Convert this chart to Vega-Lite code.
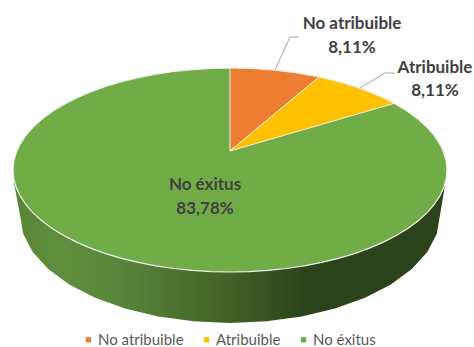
{
  "$schema": "https://vega.github.io/schema/vega-lite/v6.json",
  "width": 474,
  "height": 347,
  "padding": 0,
  "autosize": "none",
  "background": "white",
  "view": {"stroke": null},
  "datasets": {
    "rim": [
      {"x": -0.9954, "low": -0.1275, "high": 0},
      {"x": -0.9677, "low": -0.4412, "high": 0},
      {"x": -0.953, "low": -0.625, "high": 0},
      {"x": -0.9093, "low": -0.8033, "high": 0},
      {"x": -0.838, "low": -0.9706, "high": 0},
      {"x": -0.7413, "low": -1.1218, "high": 0},
      {"x": -0.622, "low": -1.2523, "high": 0},
      {"x": -0.4839, "low": -1.3581, "high": 0},
      {"x": -0.331, "low": -1.4362, "high": 0},
      {"x": -0.168, "low": -1.4839, "high": 0},
      {"x": 0, "low": -1.5, "high": 0},
      {"x": 0.168, "low": -1.4839, "high": 0},
      {"x": 0.331, "low": -1.4362, "high": 0},
      {"x": 0.4839, "low": -1.3581, "high": 0},
      {"x": 0.622, "low": -1.2523, "high": 0},
      {"x": 0.7413, "low": -1.1218, "high": 0},
      {"x": 0.838, "low": -0.9706, "high": 0},
      {"x": 0.9093, "low": -0.8033, "high": 0},
      {"x": 0.953, "low": -0.625, "high": 0},
      {"x": 0.9677, "low": -0.4412, "high": 0},
      {"x": 0.9908, "low": -0.147, "high": 0}
    ],
    "disc": [
      {"slice": "No éxitus", "x": -1, "low": 0, "high": 0},
      {"slice": "No éxitus", "x": -0.9962, "low": -0.0872, "high": 0.0872},
      {"slice": "No éxitus", "x": -0.9848, "low": -0.1736, "high": 0.1736},
      {"slice": "No éxitus", "x": -0.9659, "low": -0.2588, "high": 0.2588},
      {"slice": "No éxitus", "x": -0.9397, "low": -0.342, "high": 0.342},
      {"slice": "No éxitus", "x": -0.9063, "low": -0.4226, "high": 0.4226},
      {"slice": "No éxitus", "x": -0.866, "low": -0.5, "high": 0.5},
      {"slice": "No éxitus", "x": -0.8192, "low": -0.5736, "high": 0.5736},
      {"slice": "No éxitus", "x": -0.766, "low": -0.6428, "high": 0.6428},
      {"slice": "No éxitus", "x": -0.7071, "low": -0.7071, "high": 0.7071},
      {"slice": "No éxitus", "x": -0.6428, "low": -0.766, "high": 0.766},
      {"slice": "No éxitus", "x": -0.5736, "low": -0.8192, "high": 0.8192},
      {"slice": "No éxitus", "x": -0.5, "low": -0.866, "high": 0.866},
      {"slice": "No éxitus", "x": -0.4226, "low": -0.9063, "high": 0.9063},
      {"slice": "No éxitus", "x": -0.342, "low": -0.9397, "high": 0.9397},
      {"slice": "No éxitus", "x": -0.2588, "low": -0.9659, "high": 0.9659},
      {"slice": "No éxitus", "x": -0.1736, "low": -0.9848, "high": 0.9848},
      {"slice": "No éxitus", "x": -0.0872, "low": -0.9962, "high": 0.9962},
      {"slice": "No éxitus", "x": 0, "low": -1, "high": 1},
      {"slice": "No éxitus", "x": 0.0872, "low": -0.9962, "high": 0.9962},
      {"slice": "No éxitus", "x": 0.1736, "low": -0.9848, "high": 0.9848},
      {"slice": "No éxitus", "x": 0.2588, "low": -0.9659, "high": 0.9659},
      {"slice": "No éxitus", "x": 0.342, "low": -0.9397, "high": 0.9397},
      {"slice": "No éxitus", "x": 0.4226, "low": -0.9063, "high": 0.9063},
      {"slice": "No éxitus", "x": 0.5, "low": -0.866, "high": 0.866},
      {"slice": "No éxitus", "x": 0.5736, "low": -0.8192, "high": 0.8192},
      {"slice": "No éxitus", "x": 0.6428, "low": -0.766, "high": 0.766},
      {"slice": "No éxitus", "x": 0.7071, "low": -0.7071, "high": 0.7071},
      {"slice": "No éxitus", "x": 0.766, "low": -0.6428, "high": 0.6428},
      {"slice": "No éxitus", "x": 0.8192, "low": -0.5736, "high": 0.5736},
      {"slice": "No éxitus", "x": 0.866, "low": -0.5, "high": 0.5},
      {"slice": "No éxitus", "x": 0.9063, "low": -0.4226, "high": 0.4226},
      {"slice": "No éxitus", "x": 0.9397, "low": -0.342, "high": 0.342},
      {"slice": "No éxitus", "x": 0.9659, "low": -0.2588, "high": 0.2588},
      {"slice": "No éxitus", "x": 0.9848, "low": -0.1736, "high": 0.1736},
      {"slice": "No éxitus", "x": 0.9962, "low": -0.0872, "high": 0.0872},
      {"slice": "No éxitus", "x": 1, "low": 0, "high": 0}
    ],
    "wedges": [
      {"slice": "No atribuible", "x": 0, "low": 0.1863, "high": 1},
      {"slice": "No atribuible", "x": 0.1, "low": 0.3632, "high": 0.995},
      {"slice": "No atribuible", "x": 0.2, "low": 0.5401, "high": 0.9798},
      {"slice": "No atribuible", "x": 0.3, "low": 0.717, "high": 0.9539},
      {"slice": "No atribuible", "x": 0.4102, "low": 0.912, "high": 0.912},
      {"slice": "Atribuible", "x": 0, "low": 0.1863, "high": 0.1863},
      {"slice": "Atribuible", "x": 0.4102, "low": 0.4395, "high": 0.912},
      {"slice": "Atribuible", "x": 0.5, "low": 0.4949, "high": 0.866},
      {"slice": "Atribuible", "x": 0.6, "low": 0.5566, "high": 0.8},
      {"slice": "Atribuible", "x": 0.7, "low": 0.6183, "high": 0.7141},
      {"slice": "Atribuible", "x": 0.757, "low": 0.6535, "high": 0.6535}
    ],
    "leaders": [
      {"leader": "No atribuible", "step": 1, "x": 0.2074, "y": 0.9804},
      {"leader": "No atribuible", "step": 2, "x": 0.2765, "y": 1.3039},
      {"leader": "No atribuible", "step": 3, "x": 0.318, "y": 1.3039},
      {"leader": "Atribuible", "step": 1, "x": 0.5991, "y": 0.8039},
      {"leader": "Atribuible", "step": 2, "x": 0.7143, "y": 0.951},
      {"leader": "Atribuible", "step": 3, "x": 0.7604, "y": 0.951}
    ],
    "labels": [
      {"text": "No atribuible", "x": 0.5622, "y": 1.4314},
      {"text": "8,11%", "x": 0.5622, "y": 1.196},
      {"text": "Atribuible", "x": 0.9447, "y": 1},
      {"text": "8,11%", "x": 0.9447, "y": 0.7745},
      {"text": "No éxitus", "x": -0.1152, "y": -0.1471},
      {"text": "83,78%", "x": -0.1152, "y": -0.3824}
    ]
  },
  "layer": [
    {
      "data": {"name": "rim"},
      "mark": {
        "type": "area",
        "color": {
          "gradient": "linear",
          "x1": 0, "y1": 0, "x2": 1, "y2": 0,
          "stops": [
            {"offset": 0, "color": "#578436"},
            {"offset": 0.1, "color": "#5f8f3b"},
            {"offset": 0.25, "color": "#58853a"},
            {"offset": 0.5, "color": "#3f6026"},
            {"offset": 0.68, "color": "#2b421a"},
            {"offset": 1, "color": "#2c421a"}
          ]
        }
      },
      "encoding": {
        "x": {"field": "x", "type": "quantitative", "axis": null, "scale": {"domain": [-1.0599, 1.1244], "nice": false, "zero": false}},
        "y": {"field": "low", "type": "quantitative", "axis": null, "scale": {"domain": [-1.7353, 1.6667], "nice": false, "zero": false}},
        "y2": {"field": "high"}
      }
    },
    {
      "data": {"name": "disc"},
      "mark": {"type": "area", "stroke": "#f2f2ee", "strokeWidth": 1.2},
      "encoding": {
        "x": {"field": "x", "type": "quantitative", "axis": null},
        "y": {"field": "low", "type": "quantitative", "axis": null},
        "y2": {"field": "high"},
        "color": {
          "field": "slice",
          "type": "nominal",
          "scale": {"domain": ["No atribuible", "Atribuible", "No éxitus"], "range": ["#ED7D31", "#FFC000", "#70AD47"]},
          "legend": {
            "title": null,
            "orient": "none",
            "legendX": 81,
            "legendY": 332,
            "direction": "horizontal",
            "columns": 3,
            "symbolType": "square",
            "symbolSize": 28,
            "symbolStrokeWidth": 0,
            "labelFont": "Lato",
            "labelFontSize": 15,
            "labelColor": "#595959",
            "labelOffset": 2,
            "columnPadding": 15
          }
        }
      }
    },
    {
      "data": {"name": "wedges"},
      "mark": {"type": "area", "stroke": "#f2efe6", "strokeWidth": 1},
      "encoding": {
        "x": {"field": "x", "type": "quantitative", "axis": null},
        "y": {"field": "low", "type": "quantitative", "axis": null},
        "y2": {"field": "high"},
        "color": {"field": "slice", "type": "nominal"}
      }
    },
    {
      "data": {"name": "leaders"},
      "mark": {"type": "line", "color": "#a6a6a6", "strokeWidth": 1},
      "encoding": {
        "x": {"field": "x", "type": "quantitative", "axis": null},
        "y": {"field": "y", "type": "quantitative", "axis": null},
        "detail": {"field": "leader"},
        "order": {"field": "step"}
      }
    },
    {
      "data": {"name": "labels"},
      "mark": {"type": "text", "font": "Lato", "fontWeight": "bold", "fontSize": 17, "color": "#404040", "align": "center", "baseline": "middle"},
      "encoding": {
        "x": {"field": "x", "type": "quantitative", "axis": null},
        "y": {"field": "y", "type": "quantitative", "axis": null},
        "text": {"field": "text"}
      }
    }
  ]
}
